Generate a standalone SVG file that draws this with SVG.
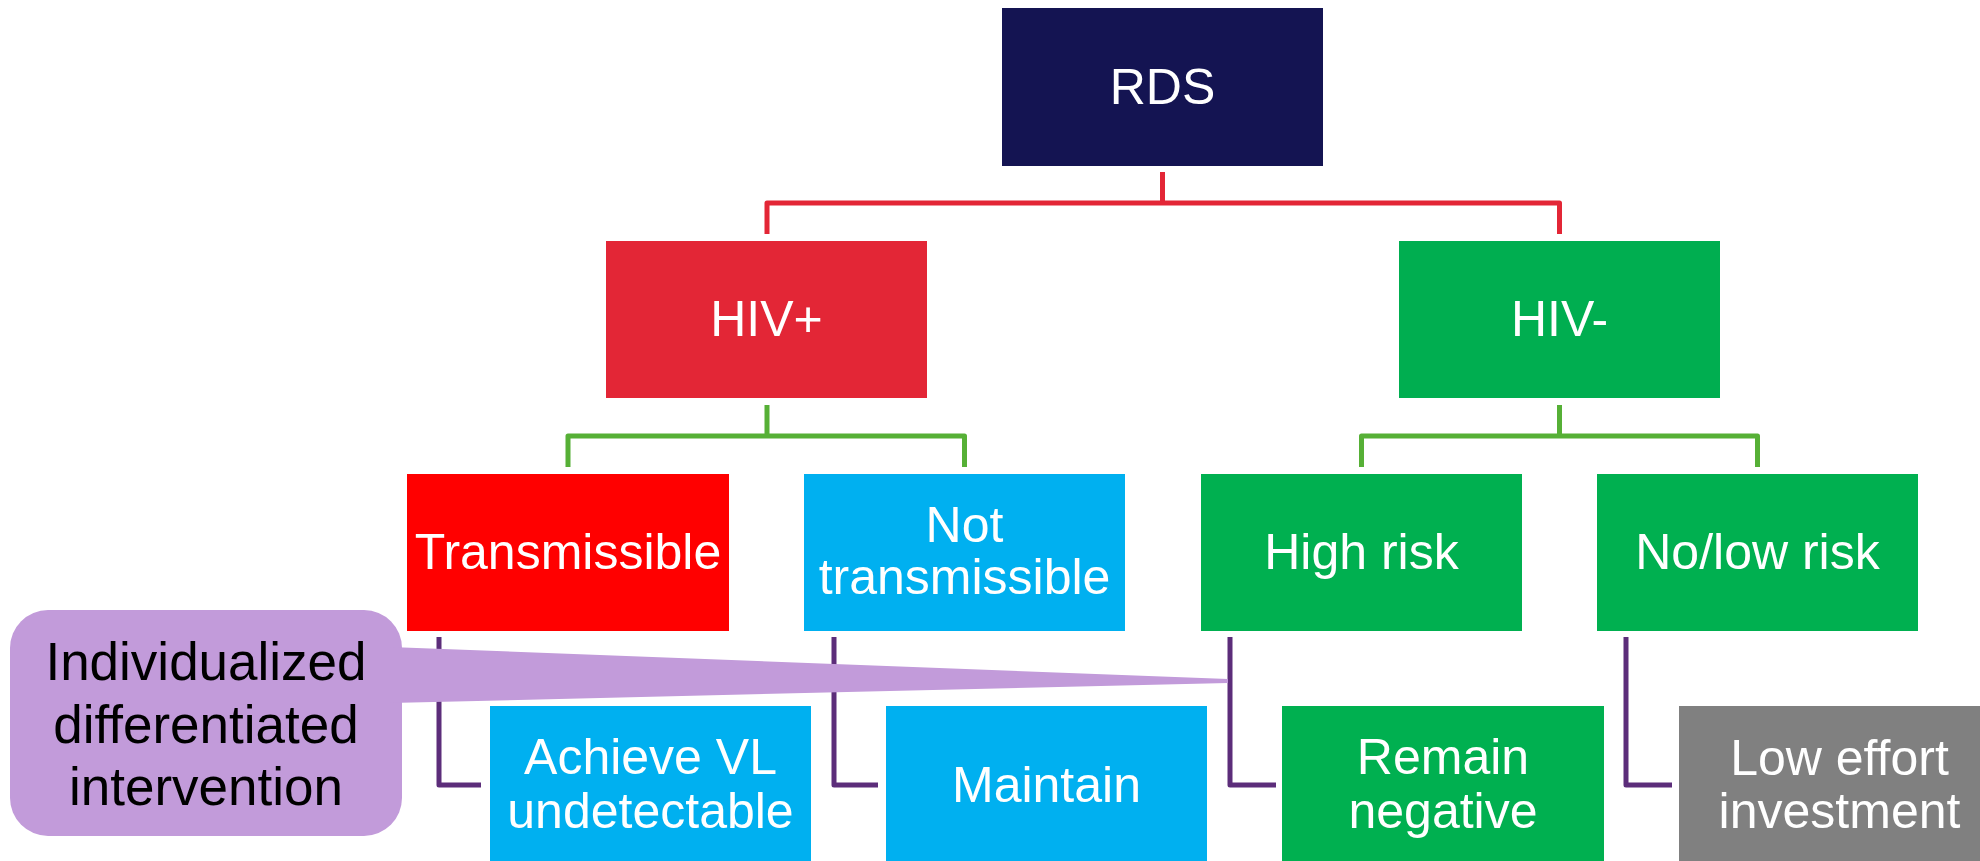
<svg xmlns="http://www.w3.org/2000/svg" width="1980" height="861" viewBox="0 0 1980 861">
<style>
.t{font-family:"Liberation Sans",Arial,sans-serif;font-size:50px;fill:#ffffff;text-anchor:middle}
.c{font-family:"Liberation Sans",Arial,sans-serif;font-size:53px;fill:#000000;text-anchor:middle}
.ln{fill:none;stroke-width:5;stroke-linejoin:round}
.red{stroke:#E32636}
.grn{stroke:#56B036}
.pur{stroke:#5C2D7A}
</style>
<rect width="1980" height="861" fill="#ffffff"/>
<g id="connectors">
<path class="ln red" d="M1162.5,172 V203 M767,234 V203 H1559.5 V234"/>
<path class="ln grn" d="M767,405 V436 M568,467 V436 H964.5 V467"/>
<path class="ln grn" d="M1559.5,405 V436 M1361.5,467 V436 H1757.5 V467"/>
<path class="ln pur" d="M439,637 V785 H481"/>
<path class="ln pur" d="M834,637 V785 H878"/>
<path class="ln pur" d="M1230,637 V785 H1276"/>
<path class="ln pur" d="M1626,637 V785 H1672"/>
</g>
<g id="rds"><rect x="1002" y="8" width="321" height="158" fill="#141452"/><text class="t" x="1162.5" y="104">RDS</text></g>
<g id="hivpos"><rect x="606" y="241" width="321" height="157" fill="#E32636"/><text class="t" x="766.5" y="336">HIV+</text></g>
<g id="hivneg"><rect x="1399" y="241" width="321" height="157" fill="#00AE50"/><text class="t" x="1559.5" y="336">HIV-</text></g>
<g id="transmissible"><rect x="407" y="474" width="322" height="157" fill="#FF0000"/><text class="t" x="568" y="569">Transmissible</text></g>
<g id="nottransmissible"><rect x="804" y="474" width="321" height="157" fill="#00B0F0"/><text class="t" x="964.5" y="542">Not</text><text class="t" x="964.5" y="594">transmissible</text></g>
<g id="highrisk"><rect x="1201" y="474" width="321" height="157" fill="#00B050"/><text class="t" x="1361.5" y="569">High risk</text></g>
<g id="nolowrisk"><rect x="1597" y="474" width="321" height="157" fill="#00B050"/><text class="t" x="1757.5" y="569">No/low risk</text></g>
<g id="achieve"><rect x="490" y="706" width="321" height="160" fill="#00B0F0"/><text class="t" x="650.5" y="774">Achieve VL</text><text class="t" x="650.5" y="828">undetectable</text></g>
<g id="maintain"><rect x="886" y="706" width="321" height="160" fill="#00B0F0"/><text class="t" x="1046.5" y="802">Maintain</text></g>
<g id="remainneg"><rect x="1282" y="706" width="322" height="160" fill="#00B050"/><text class="t" x="1443" y="774">Remain</text><text class="t" x="1443" y="828">negative</text></g>
<g id="loweffort"><rect x="1679" y="706" width="321" height="160" fill="#808080"/><text class="t" x="1839.5" y="775">Low effort</text><text class="t" x="1839.5" y="828">investment</text></g>
<g id="callout">
<rect x="10" y="610" width="392" height="226" rx="38" ry="38" fill="#C29BDA"/>
<polygon points="390,647 1228,679 1228,683 390,703" fill="#C29BDA"/>
<text class="c" x="206" y="680">Individualized</text>
<text class="c" x="206" y="743">differentiated</text>
<text class="c" x="206" y="805">intervention</text>
</g>
</svg>
